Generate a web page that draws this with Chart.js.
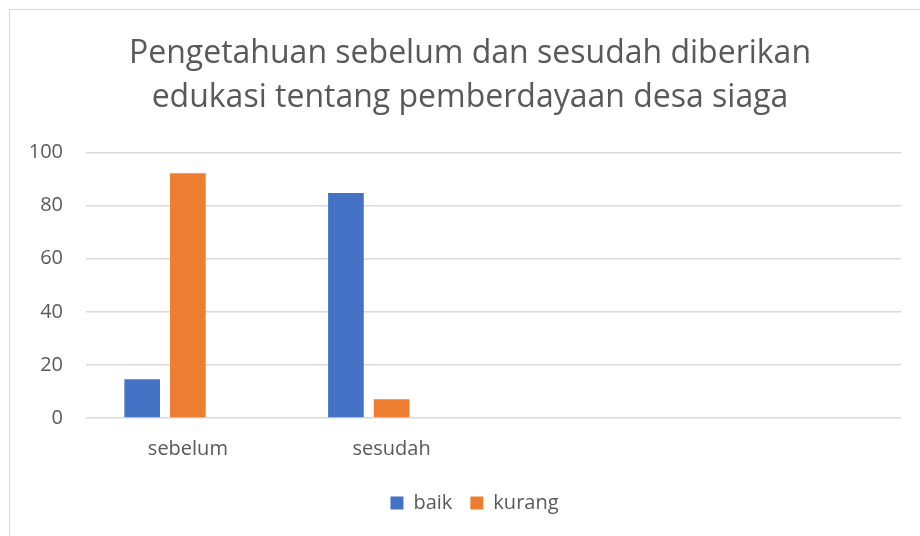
<!DOCTYPE html>
<html lang="id">
  <head>
    <meta charset="UTF-8" />
    <title>Pengetahuan sebelum dan sesudah</title>
    <style>
      * {
        margin: 0;
        padding: 0;
        box-sizing: border-box;
      }
      body {
        width: 920px;
        height: 536px;
        overflow: hidden;
        background: #fff;
        position: relative;
      }
      .frame {
        position: absolute;
        left: 9px;
        top: 9px;
        width: 1000px;
        height: 1000px;
        border: 1.5px solid #d9d9d9;
      }
      .chartBox {
        position: absolute;
        left: 0;
        top: 0;
        width: 920px;
        height: 536px;
      }
    </style>
  </head>
  <body>
    <div class="frame"></div>
    <div class="chartBox">
      <canvas id="myChart"></canvas>
    </div>

    <script src="https://cdn.jsdelivr.net/npm/chart.js"></script>
    <script>
      const categories = ["sebelum", "sesudah", "", ""];
      const baik = [14.6, 84.8, null, null];
      const kurang = [92.2, 7.1, null, null];
      const yTicks = [0, 20, 40, 60, 80, 100];

      const grey = "#595959";
      const font = "'Open Sans', 'Noto Sans', sans-serif";

      const data = {
        labels: categories,
        datasets: [
          { label: "baik", data: baik, backgroundColor: "#4472C4" },
          { label: "kurang", data: kurang, backgroundColor: "#ED7D31" },
          // empty third series, keeps the group spacing like the original
          { label: "", data: [], backgroundColor: "#A5A5A5" },
        ],
      };

      // title and legend sit a bit right of the plot centre in the original
      const nudge = {
        id: "nudge",
        afterLayout(chart) {
          chart.titleBlock.left += 5.5;
          chart.titleBlock.right += 5.5;
          chart.legend.left += 10;
          chart.legend.right += 10;
        },
      };

      const config = {
        type: "bar",
        data: data,
        options: {
          responsive: true,
          maintainAspectRatio: false,
          animation: false,
          categoryPercentage: 0.673,
          barPercentage: 0.78,
          layout: { padding: { left: 28, right: 19, top: 0, bottom: 13 } },
          plugins: {
            title: {
              display: true,
              text: [
                "Pengetahuan sebelum dan sesudah diberikan",
                "edukasi tentang pemberdayaan desa siaga",
              ],
              color: grey,
              font: { family: font, size: 32, weight: "normal", lineHeight: 1.4 },
              padding: { top: 31, bottom: 32 },
            },
            legend: {
              position: "bottom",
              labels: {
                color: grey,
                font: { family: font, size: 20 },
                boxWidth: 13,
                boxHeight: 13,
                padding: 18,
                filter: (item) => item.text !== "",
              },
            },
            tooltip: { enabled: false },
          },
          scales: {
            x: {
              afterFit: (axis) => {
                axis.height = axis.height - 5;
              },
              grid: { display: false, drawTicks: false },
              border: { display: false },
              ticks: { color: grey, font: { family: font, size: 20 }, padding: 19 },
            },
            y: {
              min: 0,
              max: 100,
              afterBuildTicks: (axis) => {
                axis.ticks = yTicks.map((v) => ({ value: v }));
              },
              afterFit: (axis) => {
                axis.width = 58;
              },
              grid: { color: "#d9d9d9", lineWidth: 1.5, drawTicks: false },
              border: { display: false },
              ticks: { color: grey, font: { family: font, size: 20 }, padding: 23 },
            },
          },
        },
        plugins: [nudge],
      };

      const myChart = new Chart(document.getElementById("myChart"), config);
    </script>
  </body>
</html>
